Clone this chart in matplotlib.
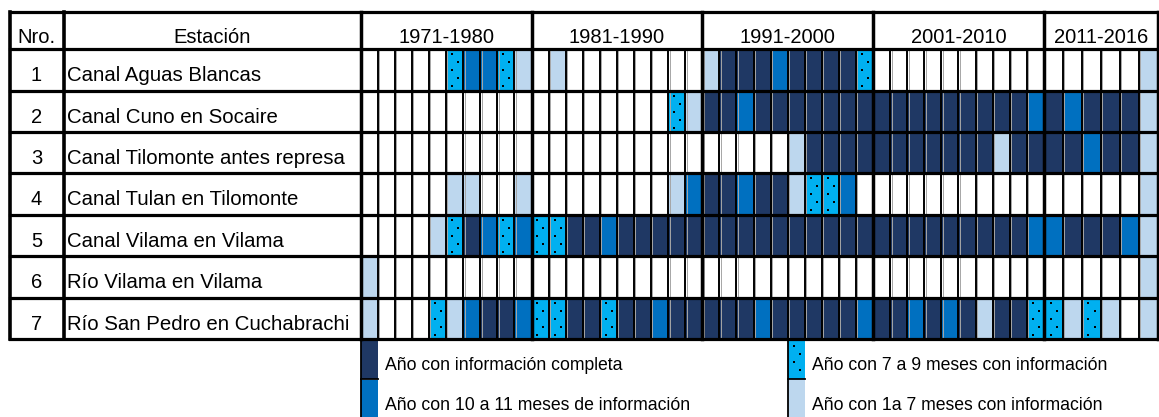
import numpy as np
import matplotlib.pyplot as plt
from matplotlib.patches import Rectangle

plt.rcParams['font.family'] = ['Liberation Sans', 'DejaVu Sans']

# data: one status code per year 1971-2016
# 0 = sin dato, 1 = 1 a 7 meses, 2 = 7 a 9 meses, 3 = 10 a 11 meses, 4 = completo
years = list(range(1971, 2017))
decades = ['1971-1980', '1981-1990', '1991-2000', '2001-2010', '2011-2016']
decade_len = [10, 10, 10, 10, 6]

numbers = ['1', '2', '3', '4', '5', '6', '7']
stations = ['Canal Aguas Blancas', 'Canal Cuno en Socaire', 'Canal Tilomonte antes represa',
            'Canal Tulan en Tilomonte', 'Canal Vilama en Vilama', 'Río Vilama en Vilama',
            'Río San Pedro en Cuchabrachi']

aguas_blancas = [0, 0, 0, 0, 0, 2, 3, 3, 2, 1,  0, 1, 0, 0, 0, 0, 0, 0, 0, 0,
                 1, 4, 4, 4, 3, 4, 4, 4, 4, 2,  0, 0, 0, 0, 0, 0, 0, 0, 0, 0,
                 0, 0, 0, 0, 0, 1]
cuno = [0, 0, 0, 0, 0, 0, 0, 0, 0, 0,  0, 0, 0, 0, 0, 0, 0, 0, 2, 1,
        4, 4, 3, 4, 4, 4, 4, 4, 4, 4,  4, 4, 4, 4, 4, 4, 4, 4, 4, 3,
        4, 3, 4, 4, 4, 1]
tilomonte = [0, 0, 0, 0, 0, 0, 0, 0, 0, 0,  0, 0, 0, 0, 0, 0, 0, 0, 0, 0,
             0, 0, 0, 0, 0, 1, 4, 4, 4, 4,  4, 4, 4, 4, 4, 4, 4, 1, 4, 4,
             4, 4, 3, 4, 4, 1]
tulan = [0, 0, 0, 0, 0, 1, 1, 0, 0, 1,  0, 0, 0, 0, 0, 0, 0, 0, 1, 3,
         4, 4, 3, 4, 4, 1, 2, 2, 3, 0,  0, 0, 0, 0, 0, 0, 0, 0, 0, 0,
         0, 0, 0, 0, 0, 1]
canal_vilama = [0, 0, 0, 0, 1, 2, 4, 3, 2, 3,  2, 2, 4, 4, 3, 4, 4, 4, 4, 4,
                4, 4, 4, 4, 4, 4, 4, 4, 4, 4,  4, 4, 4, 4, 4, 4, 4, 4, 4, 3,
                3, 4, 4, 4, 3, 1]
rio_vilama = [1, 0, 0, 0, 0, 0, 0, 0, 0, 0,  0, 0, 0, 0, 0, 0, 0, 0, 0, 0,
              0, 0, 0, 0, 0, 0, 0, 0, 0, 0,  0, 0, 0, 0, 0, 0, 0, 0, 0, 0,
              0, 0, 0, 0, 0, 1]
san_pedro = [1, 0, 0, 0, 2, 1, 3, 4, 4, 3,  2, 2, 4, 4, 2, 4, 4, 3, 4, 4,
             4, 4, 4, 3, 4, 4, 4, 4, 4, 3,  4, 4, 3, 4, 3, 4, 1, 4, 4, 2,
             2, 1, 2, 1, 0, 1]
status = [aguas_blancas, cuno, tilomonte, tulan, canal_vilama, rio_vilama, san_pedro]

legend_labels = ['Año con información completa', 'Año con 10 a 11 meses de información',
                 'Año con 7 a 9 meses con información', 'Año con 1a 7 meses con información']
legend_codes = [4, 3, 2, 1]

colors = {0: 'white', 1: '#BDD7EE', 2: '#00B0F0', 3: '#0070C0', 4: '#1F3864'}

# layout in pixels
W, H = 1159, 417
x_left, x_nro, x_yr = 9.5, 63.5, 360.7
y_top, y_head, y_bot = 11.7, 49.3, 339.0
widths = np.array([17.08] * 40 + [18.95] * 6)
edges = x_yr + np.concatenate([[0], np.cumsum(widths)])
x_right = edges[-1]
row_h = (y_bot - y_head) / len(stations)

fig = plt.figure(figsize=(W / 100, H / 100), dpi=100)
ax = fig.add_axes([0, 0, 1, 1])
ax.set_xlim(0, W)
ax.set_ylim(H, 0)
ax.axis('off')


def draw_cell(x0, y0, w, h, code):
    ax.add_patch(Rectangle((x0, y0), w, h, facecolor=colors[code], edgecolor='none'))
    if code == 2:
        ys = np.arange(y0 + 5, y0 + h - 2, 8)
        xs = np.where(np.arange(len(ys)) % 2 == 0, x0 + 0.35 * w, x0 + 0.7 * w)
        ax.scatter(xs, ys, s=3.5, marker='s', color='black', linewidths=0, zorder=3)


# cells
for r, row in enumerate(status):
    y0 = y_head + r * row_h
    for i, code in enumerate(row):
        draw_cell(edges[i], y0, widths[i], row_h, code)

# thin lines between years
for e in edges[1:-1]:
    ax.plot([e + 1.4, e + 1.4], [y_head, y_bot], color='#A6A6A6', lw=0.7, zorder=4)
    ax.plot([e, e], [y_head, y_bot], color='black', lw=1.4, zorder=5)

# thick lines: rows, decades, columns, frame
for r in range(len(stations) + 1):
    y = y_head + r * row_h
    ax.plot([x_left, x_right], [y, y], color='black', lw=2.3, zorder=6)
ax.plot([x_left, x_right], [y_top, y_top], color='black', lw=2.3, zorder=6)
dec_edges = np.concatenate([[0], np.cumsum(decade_len)])
for d in dec_edges:
    ax.plot([edges[d], edges[d]], [y_top, y_bot], color='black', lw=2.5, zorder=6)
for x in [x_left, x_nro]:
    ax.plot([x, x], [y_top, y_bot], color='black', lw=2.6, zorder=6)

# header text
fs = 14.5
ax.text((x_left + x_nro) / 2, y_head - 6.8, 'Nro.', ha='center', va='baseline', fontsize=fs)
ax.text((x_nro + x_yr) / 2, y_head - 6.8, 'Estación', ha='center', va='baseline', fontsize=fs)
for k, lab in enumerate(decades):
    xc = (edges[dec_edges[k]] + edges[dec_edges[k + 1]]) / 2
    ax.text(xc, y_head - 6.8, lab, ha='center', va='baseline', fontsize=fs)

# row text
for r in range(len(stations)):
    yb = y_head + (r + 1) * row_h - 9.5
    ax.text((x_left + x_nro) / 2, yb, numbers[r], ha='center', va='baseline', fontsize=fs)
    ax.text(x_nro + 3.5, yb, stations[r], ha='left', va='baseline', fontsize=14.7)

# legend
leg_cols = [0, 0, 25, 25]
for k, (lab, code) in enumerate(zip(legend_labels, legend_codes)):
    i = leg_cols[k]
    y0 = y_bot + 1.5 + (k % 2) * 39.5
    draw_cell(edges[i], y0, widths[i], 38, code)
    ax.plot([edges[i], edges[i]], [y0, y0 + 38], color='black', lw=1.3, zorder=5)
    ax.plot([edges[i], edges[i] + widths[i]], [y0 + 38.7, y0 + 38.7], color='black', lw=1.3, zorder=5)
    ax.text(edges[i + 1] + 7, y0 + 30, lab, ha='left', va='baseline', fontsize=12.7)

fig.savefig('out.png', dpi=100)
